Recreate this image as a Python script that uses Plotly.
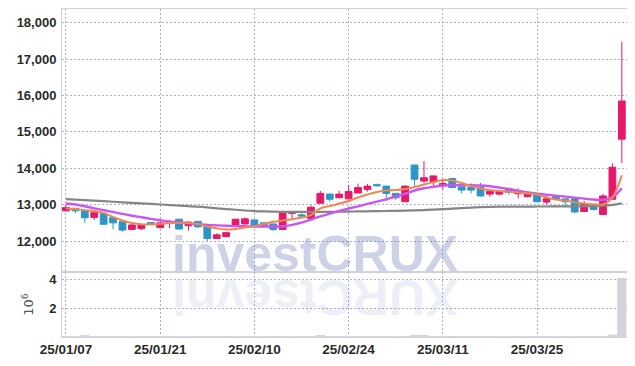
import plotly.graph_objects as go

dates = ["25/01/07","25/01/08","25/01/09","25/01/10","25/01/13","25/01/14","25/01/15","25/01/16","25/01/17","25/01/20",
         "25/01/21","25/01/22","25/01/23","25/01/24","25/01/31","25/02/03","25/02/04","25/02/05","25/02/06","25/02/07",
         "25/02/10","25/02/11","25/02/12","25/02/13","25/02/14","25/02/17","25/02/18","25/02/19","25/02/20","25/02/21",
         "25/02/24","25/02/25","25/02/26","25/02/27","25/02/28","25/03/04","25/03/05","25/03/06","25/03/07","25/03/10",
         "25/03/11","25/03/12","25/03/13","25/03/14","25/03/17","25/03/18","25/03/19","25/03/20","25/03/21","25/03/24",
         "25/03/25","25/03/26","25/03/27","25/03/28","25/03/31","25/04/01","25/04/02","25/04/03","25/04/04","25/04/07"]

open_ = [12830,12900,12830,12650,12760,12640,12530,12320,12340,12510,
         12370,12490,12600,12420,12540,12410,12070,12120,12400,12470,
         12580,12500,12470,12320,12760,12720,12620,13040,13290,13190,
         13160,13320,13420,13550,13510,13310,13080,14090,13650,13630,
         13530,13720,13490,13470,13480,13290,13290,13440,13300,13220,
         13310,13070,13220,13160,13160,12810,12990,12730,13150,14800]
high = [13020,12910,12840,12830,12790,12650,12550,12490,12450,12520,
        12520,12580,12610,12540,12550,12430,12210,12260,12610,12650,
        12590,12510,12480,12830,12810,12760,12980,13380,13300,13380,
        13540,13580,13570,13580,13520,13320,13530,14100,14200,13800,
        13700,13730,13500,13590,13600,13420,13400,13450,13450,13330,
        13320,13270,13250,13160,13160,13100,13000,13290,14140,17480]
low = [12810,12760,12500,12580,12450,12320,12260,12320,12300,12440,
       12360,12350,12320,12280,12360,12000,12070,12110,12390,12450,
       12400,12400,12280,12300,12600,12650,12600,13030,13080,13180,
       13140,13310,13360,13500,13100,13130,13070,13500,13590,13490,
       13420,13460,13310,13310,13220,13220,13250,13270,13170,13200,
       13070,13010,13130,12930,12760,12800,12840,12730,13140,14140]
close = [12920,12830,12640,12780,12460,12500,12300,12440,12440,12450,
         12500,12530,12330,12520,12390,12070,12170,12230,12600,12610,
         12440,12410,12320,12810,12810,12690,12930,13310,13150,13290,
         13360,13470,13510,13520,13310,13190,13510,13700,13740,13790,
         13580,13470,13400,13400,13240,13370,13370,13340,13350,13300,
         13080,13160,13160,13080,12800,13030,12870,13240,14030,15850]

ma5 = [12900,12880,12850,12825,12770,12660,12565,12495,12460,12460,
       12470,12495,12505,12495,12470,12400,12350,12315,12330,12370,
       12410,12470,12530,12565,12600,12645,12715,12900,12960,13030,
       13100,13195,13280,13350,13390,13400,13430,13485,13555,13620,
       13675,13665,13595,13510,13445,13400,13375,13355,13335,13305,
       13280,13195,13140,13115,13070,13030,13010,13005,13200,13810]
ma10 = [13030,13005,12955,12900,12845,12800,12745,12695,12655,12610,
        12570,12535,12510,12485,12465,12445,12430,12420,12410,12405,
        12400,12400,12400,12405,12445,12505,12590,12675,12755,12825,
        12895,12955,13020,13085,13145,13225,13300,13390,13450,13490,
        13525,13535,13540,13535,13525,13505,13470,13430,13380,13335,
        13305,13275,13250,13220,13195,13165,13140,13130,13200,13450]
ma_long = [13155,13140,13125,13110,13095,13080,13065,13050,13035,13020,
           13005,12990,12975,12960,12945,12925,12900,12880,12860,12840,
           12825,12815,12808,12804,12802,12800,12800,12800,12802,12805,
           12810,12814,12818,12822,12826,12830,12836,12843,12852,12862,
           12875,12890,12905,12920,12932,12940,12944,12946,12947,12948,
           12949,12950,12951,12952,12954,12957,12962,12972,12995,13035]
volume = [30000,22000,110000,26000,24000,21000,28000,20000,18000,19000,
          23000,25000,21000,17000,26000,35000,22000,19000,30000,24000,
          20000,18000,21000,45000,26000,15000,38000,120000,40000,28000,
          33000,30000,25000,18000,36000,24000,50000,150000,100000,45000,
          30000,34000,22000,20000,28000,19000,17000,21000,16000,18000,
          25000,20000,17000,19000,40000,26000,24000,60000,160000,4070000]

tick_idx = [0, 10, 20, 30, 40, 50]
price_ticks = [12000, 13000, 14000, 15000, 16000, 17000, 18000]

UP = "#E5196B"
DOWN = "#2E95C8"
GRID = "#A9B1CC"
GRIDDASH = "2px,2px"
AXLINE = "#CFD0D8"
FAMILY = "Liberation Sans, Arial, sans-serif"
TICKFONT = dict(family=FAMILY, size=13, color="#2A2A2A", weight="bold")

fig = go.Figure()
fig.add_trace(go.Candlestick(
    x=dates, open=open_, high=high, low=low, close=close,
    increasing=dict(line=dict(color=UP, width=1), fillcolor=UP),
    decreasing=dict(line=dict(color=DOWN, width=1), fillcolor=DOWN),
    whiskerwidth=0, xaxis="x", yaxis="y", hoverinfo="skip", showlegend=False))
fig.add_trace(go.Scatter(x=dates, y=ma_long, mode="lines", line=dict(color="#858585", width=2.2, shape="spline"),
                         xaxis="x", yaxis="y", showlegend=False))
fig.add_trace(go.Scatter(x=dates, y=ma10, mode="lines", line=dict(color="#CB55EE", width=2.4, shape="spline"),
                         xaxis="x", yaxis="y", showlegend=False))
fig.add_trace(go.Scatter(x=dates, y=ma5, mode="lines", line=dict(color="#EE8850", width=2, shape="spline"),
                         xaxis="x", yaxis="y", showlegend=False))
fig.add_trace(go.Bar(x=dates, y=volume, marker=dict(color="#D3D3DC", line=dict(width=0)),
                     xaxis="x", yaxis="y2", showlegend=False))

fig.update_layout(
    width=627, height=358,
    margin=dict(l=54, r=8, t=1, b=29),
    paper_bgcolor="white", plot_bgcolor="white",
    bargap=0.02, boxgap=0.28, boxgroupgap=0,
    showlegend=False,
    xaxis=dict(type="category", domain=[0, 1], anchor="y2", range=[-0.42, 59.55], automargin=False,
               tickmode="array", tickvals=[dates[i] for i in tick_idx], ticktext=[dates[i] for i in tick_idx],
               showgrid=True, gridcolor=GRID, griddash=GRIDDASH, gridwidth=1,
               showline=True, linecolor=AXLINE, linewidth=1, mirror="all",
               ticks="", tickfont=dict(TICKFONT, size=13.5), rangeslider=dict(visible=False), zeroline=False),
    yaxis=dict(domain=[0.198, 1], anchor="x", range=[11147, 18380], automargin=False,
               tickmode="array", tickvals=price_ticks, tickformat=",d",
               showgrid=True, gridcolor=GRID, griddash=GRIDDASH, gridwidth=1,
               showline=True, linecolor=AXLINE, linewidth=1, mirror=True,
               ticks="", tickfont=TICKFONT, ticklabelstandoff=2, zeroline=False),
    yaxis2=dict(domain=[0, 0.198], anchor="x", range=[0, 4480000], automargin=False,
                tickmode="array", tickvals=[2000000, 4000000], ticktext=["2", "4"],
                showgrid=True, gridcolor=GRID, griddash=GRIDDASH, gridwidth=1,
                showline=True, linecolor=AXLINE, linewidth=1, mirror=True,
                ticks="", tickfont=TICKFONT, ticklabelstandoff=2, zeroline=False,
                title=dict(text="10<sup>6</sup>", font=dict(family="DejaVu Sans, sans-serif", size=13, color="#555555"),
                           standoff=12)),
    annotations=[
        dict(text="investCRUX", xref="paper", yref="paper", x=0.448, y=0.252,
             xanchor="center", yanchor="middle", showarrow=False,
             font=dict(family=FAMILY, size=50, color="rgba(88,105,172,0.3)", weight="bold")),
        dict(text="XURCtsevni", xref="paper", yref="paper", x=0.448, y=0.12, textangle=180,
             xanchor="center", yanchor="middle", showarrow=False,
             font=dict(family=FAMILY, size=50, color="rgba(88,105,172,0.11)", weight="bold")),
    ],
)

fig.write_html("out.html")
